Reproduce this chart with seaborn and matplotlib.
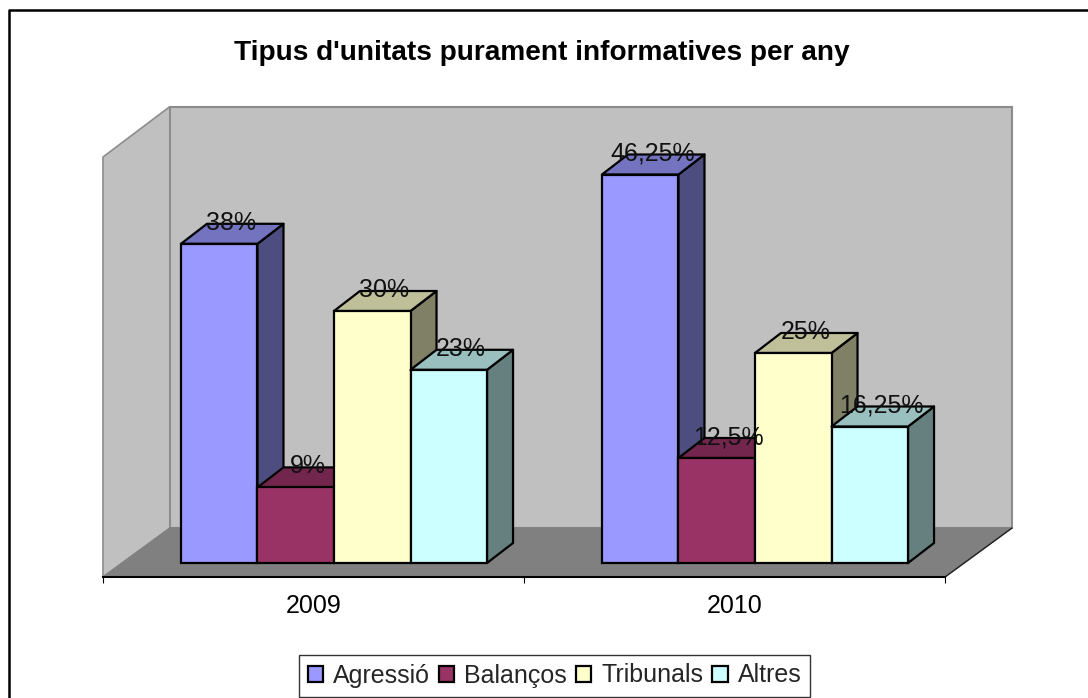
import matplotlib
matplotlib.use("Agg")
import matplotlib.pyplot as plt
from matplotlib.colors import to_rgb
from matplotlib.lines import Line2D
from matplotlib.patches import Polygon
from matplotlib.transforms import Affine2D
import pandas as pd
import seaborn as sns

title = "Tipus d'unitats purament informatives per any"
years = ["2009", "2010"]
series = ["Agressió", "Balanços", "Tribunals", "Altres"]
colors = ["#9999FF", "#993366", "#FFFFCC", "#CCFFFF"]
agressio = [38, 46.25]
balancos = [9, 12.5]
tribunals = [30, 25]
altres = [23, 16.25]

W, H = 1088, 698
sns.set_theme(style="white")
plt.rcParams["font.family"] = ["Liberation Sans", "DejaVu Sans"]

# long table for seaborn
rows = []
for name, vals in zip(series, [agressio, balancos, tribunals, altres]):
    for year, v in zip(years, vals):
        rows.append({"year": year, "serie": name, "value": v})
df = pd.DataFrame(rows)

fig = plt.figure(figsize=(W / 100, H / 100), dpi=100, facecolor="white")
ax = fig.add_axes([103 / W, 1 - 577 / H, 842 / W, 420 / H])
ax.patch.set_alpha(0)

sns.barplot(data=df, x="year", y="value", hue="serie", hue_order=series,
            order=years, palette=colors, saturation=1, width=0.727, gap=0,
            edgecolor="black", linewidth=1.6, ax=ax)

ax.set_xlim(-0.5, 1.5)
ax.set_ylim(0, 50)
ax.set_xlabel("")
ax.set_ylabel("")
ax.set_yticks([])
sns.despine(ax=ax, left=True, top=True, right=True)
ax.spines["bottom"].set_color("black")
ax.spines["bottom"].set_linewidth(1.5)
ax.spines["bottom"].set_zorder(1.5)

# pixels to data units, for the fake 3D depth
px_x = 2 / 842
px_y = 50 / 420
shift_x, shift_y = 20.5 * px_x, 14 * px_y   # bars stand inside the floor
depth_x, depth_y = 26 * px_x, 20 * px_y     # depth of one bar
wall_x, wall_y = 67 * px_x, 49 * px_y       # depth of the floor
wall_top = 50.5 * px_y

# walls and floor
x0, x1 = ax.get_xlim()
y0, y1 = ax.get_ylim()
ax.add_patch(Polygon([(x0, y0), (x0, y1), (x0 + wall_x, y1 + wall_top), (x0 + wall_x, y0 + wall_y)],
                     fc="#C0C0C0", ec="#8C8C8C", lw=1.2, zorder=0.4, clip_on=False))
ax.add_patch(Polygon([(x0 + wall_x, y0 + wall_y), (x0 + wall_x, y1 + wall_top),
                      (x1 + wall_x, y1 + wall_top), (x1 + wall_x, y0 + wall_y)],
                     fc="#C0C0C0", ec="#8C8C8C", lw=1.5, zorder=0.5, clip_on=False))
ax.add_patch(Polygon([(x0, y0), (x1, y0), (x1 + wall_x, y0 + wall_y), (x0 + wall_x, y0 + wall_y)],
                     fc="#808080", ec="#808080", lw=1, zorder=0.6, clip_on=False))
ax.plot([x1, x1 + wall_x], [y0, y0 + wall_y], color="#222222", lw=1, zorder=0.7, clip_on=False)

# bars: move into the floor and add side and top faces
move = Affine2D().translate(shift_x, shift_y) + ax.transData
bars = []
for cont, col in zip(ax.containers, colors):
    for bar in cont:
        bars.append((bar, col))
bars.sort(key=lambda b: b[0].get_x())

for i, (bar, col) in enumerate(bars):
    z = 2 + i * 0.1
    bar.set_transform(move)
    bar.set_clip_on(False)
    bar.set_zorder(z + 0.05)
    bx0, bx1 = bar.get_x(), bar.get_x() + bar.get_width()
    h = bar.get_height()
    rgb = to_rgb(col)
    side = [c * 0.5 for c in rgb]
    top = [c * 0.75 for c in rgb]
    ax.add_patch(Polygon([(bx1, 0), (bx1, h), (bx1 + depth_x, h + depth_y), (bx1 + depth_x, depth_y)],
                         fc=side, ec="black", lw=1.6, joinstyle="round", transform=move, zorder=z, clip_on=False))
    ax.add_patch(Polygon([(bx0, h), (bx1, h), (bx1 + depth_x, h + depth_y), (bx0 + depth_x, h + depth_y)],
                         fc=top, ec="black", lw=1.6, joinstyle="round", transform=move, zorder=z, clip_on=False))
    label = f"{h:g}".replace(".", ",") + "%"
    ax.text((bx0 + bx1) / 2 + 12 * px_x + shift_x, h + shift_y + 21 * px_y, label,
            ha="center", va="center", fontsize=18, color="#111111", zorder=5)

# axis ticks: labels in the middle, marks between the groups
ax.set_xticks([0, 1], years)
ax.set_xticks([-0.5, 0.5, 1.5], minor=True)
ax.tick_params(axis="x", which="major", length=0, pad=12, labelsize=18, labelcolor="black")
ax.tick_params(axis="x", which="minor", length=4.5, width=0.8, color="black", bottom=True)

handles, labels = ax.get_legend_handles_labels()
leg = ax.legend(handles, labels, loc="center", ncol=4,
                bbox_to_anchor=(554.5 / W, 1 - 675.5 / H), bbox_transform=fig.transFigure,
                fontsize=18, frameon=True, fancybox=False, framealpha=1,
                edgecolor="#333333", borderpad=0.36, handlelength=0.62, handleheight=0.62,
                handletextpad=0.4, columnspacing=0.35, borderaxespad=0)
leg.get_frame().set_linewidth(1)
leg.set_zorder(6)

fig.text(542 / W, 1 - 53.5 / H, title, ha="center", va="center", fontsize=20.2,
         fontweight="bold", color="black")

# chart frame, the right and bottom sides fall outside the picture
fig.add_artist(Line2D([9 / W, 9 / W, 1], [0, 1 - 10 / H, 1 - 10 / H], color="black", lw=1.8))

fig.savefig("out.png", dpi=100)
